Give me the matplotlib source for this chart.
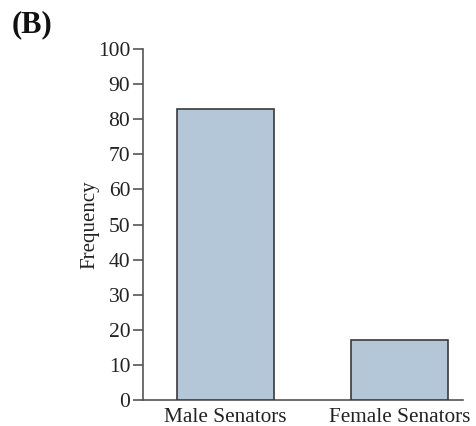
import matplotlib
matplotlib.use('Agg')
import matplotlib.pyplot as plt

# Data
categories = ['Male Senators', 'Female Senators']
frequency = [83, 17]
y_ticks = [0, 10, 20, 30, 40, 50, 60, 70, 80, 90, 100]

BAR_FILL = '#b4c7d9'
BAR_EDGE = '#3a3a3a'
AXIS_COL = '#555555'
TEXT_COL = '#222222'

plt.rcParams['font.family'] = ['Liberation Serif', 'DejaVu Serif']

fig = plt.figure(figsize=(4.76, 4.26), dpi=100)
fig.patch.set_facecolor('white')
ax = fig.add_axes([143 / 476, 26 / 426, 320 / 476, 351 / 426])

x = list(range(len(categories)))
ax.bar(x, frequency, width=0.557, color=BAR_FILL, edgecolor=BAR_EDGE,
       linewidth=1.2, zorder=3)

ax.set_xlim(-0.474, 1.365)
ax.set_ylim(0, 100)
ax.set_yticks(y_ticks)
ax.set_xticks(x)
ax.set_xticklabels(categories)

for side in ('top', 'right'):
    ax.spines[side].set_visible(False)
for side in ('left', 'bottom'):
    ax.spines[side].set_color(AXIS_COL)
    ax.spines[side].set_linewidth(1.2)

ax.tick_params(axis='y', direction='out', length=7.2, width=1.2,
               color=AXIS_COL, labelsize=15.5, labelcolor=TEXT_COL, pad=2)
ax.tick_params(axis='x', length=0, labelsize=15.3, labelcolor=TEXT_COL, pad=6)

ax.set_ylabel('Frequency', fontsize=15, color=TEXT_COL, labelpad=-1)

fig.text(12 / 476, 1 - 25 / 426, '(B)', fontsize=22, fontweight='bold',
         color='#111111', ha='left', va='center')

fig.savefig('out.png', dpi=100, facecolor='white')
